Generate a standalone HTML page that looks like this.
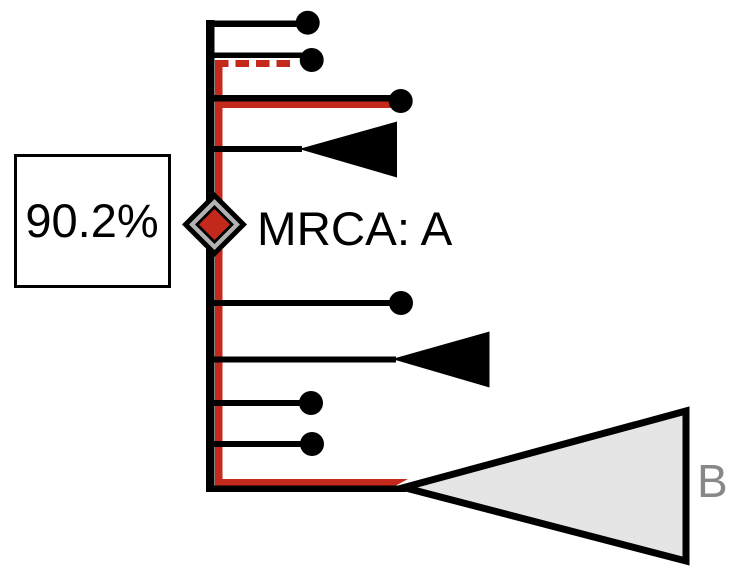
<!DOCTYPE html>
<html>
<head>
<meta charset="utf-8">
<style>
html,body{margin:0;padding:0;background:#fff;}
svg{display:block;}
text{font-family:"Liberation Sans",Arial,sans-serif;}
</style>
</head>
<body>
<svg width="740" height="584" viewBox="0 0 740 584" xmlns="http://www.w3.org/2000/svg">
  <rect width="740" height="584" fill="#fff"/>

  <!-- red highlighted path -->
  <rect x="215" y="60" width="7.5" height="425" fill="#c42a1c"/>
  <line x1="215" y1="63.5" x2="293" y2="63.5" stroke="#c42a1c" stroke-width="7" stroke-dasharray="13.5,7"/>
  <rect x="215" y="101.5" width="180" height="6.5" fill="#c42a1c"/>
  <polygon points="215,479 408,479 396,485.5 215,485.5" fill="#c42a1c"/>

  <!-- black backbone -->
  <rect x="206" y="20" width="8.5" height="472" fill="#000"/>

  <!-- branches -->
  <rect x="206" y="20.5" width="102" height="6.5" fill="#000"/>
  <circle cx="307.7" cy="22.7" r="12" fill="#000"/>

  <rect x="206" y="52.5" width="106" height="5.5" fill="#000"/>
  <circle cx="311.7" cy="60" r="12" fill="#000"/>

  <rect x="206" y="95" width="195" height="6.5" fill="#000"/>
  <circle cx="400.7" cy="101" r="12" fill="#000"/>

  <rect x="206" y="146" width="96" height="6" fill="#000"/>
  <polygon points="299,149 397,121.5 397,177.5" fill="#000"/>

  <rect x="206" y="300" width="195" height="6" fill="#000"/>
  <circle cx="401" cy="303" r="12" fill="#000"/>

  <rect x="206" y="356.5" width="190" height="6" fill="#000"/>
  <polygon points="392,359 489.5,331.5 489.5,387.5" fill="#000"/>

  <rect x="206" y="400" width="105" height="6" fill="#000"/>
  <circle cx="311" cy="403" r="12" fill="#000"/>

  <rect x="206" y="441" width="106" height="6" fill="#000"/>
  <circle cx="312" cy="444" r="12" fill="#000"/>

  <rect x="206" y="485.5" width="200" height="6.5" fill="#000"/>

  <!-- big collapsed clade B -->
  <polygon points="404,487.5 686,411 686,561" fill="#e5e5e5" stroke="#000" stroke-width="7" stroke-linejoin="miter"/>
  <text x="697" y="497" font-size="46" fill="#888">B</text>

  <!-- MRCA diamond -->
  <polygon points="214.5,192 247,224.5 214.5,257 182,224.5" fill="#000"/>
  <polygon points="214.5,199 240,224.5 214.5,250 189,224.5" fill="#b3b3b3"/>
  <polygon points="214.5,205 234,224.5 214.5,244 195,224.5" fill="#000"/>
  <polygon points="214.5,209 230,224.5 214.5,240 199,224.5" fill="#c42a1c"/>

  <text x="257" y="245" font-size="47.5" fill="#000">MRCA: A</text>

  <!-- percentage box -->
  <rect x="15.5" y="155.5" width="154" height="131" fill="#fff" stroke="#000" stroke-width="3"/>
  <text x="92" y="237" font-size="47" fill="#000" text-anchor="middle">90.2%</text>
</svg>
</body>
</html>
